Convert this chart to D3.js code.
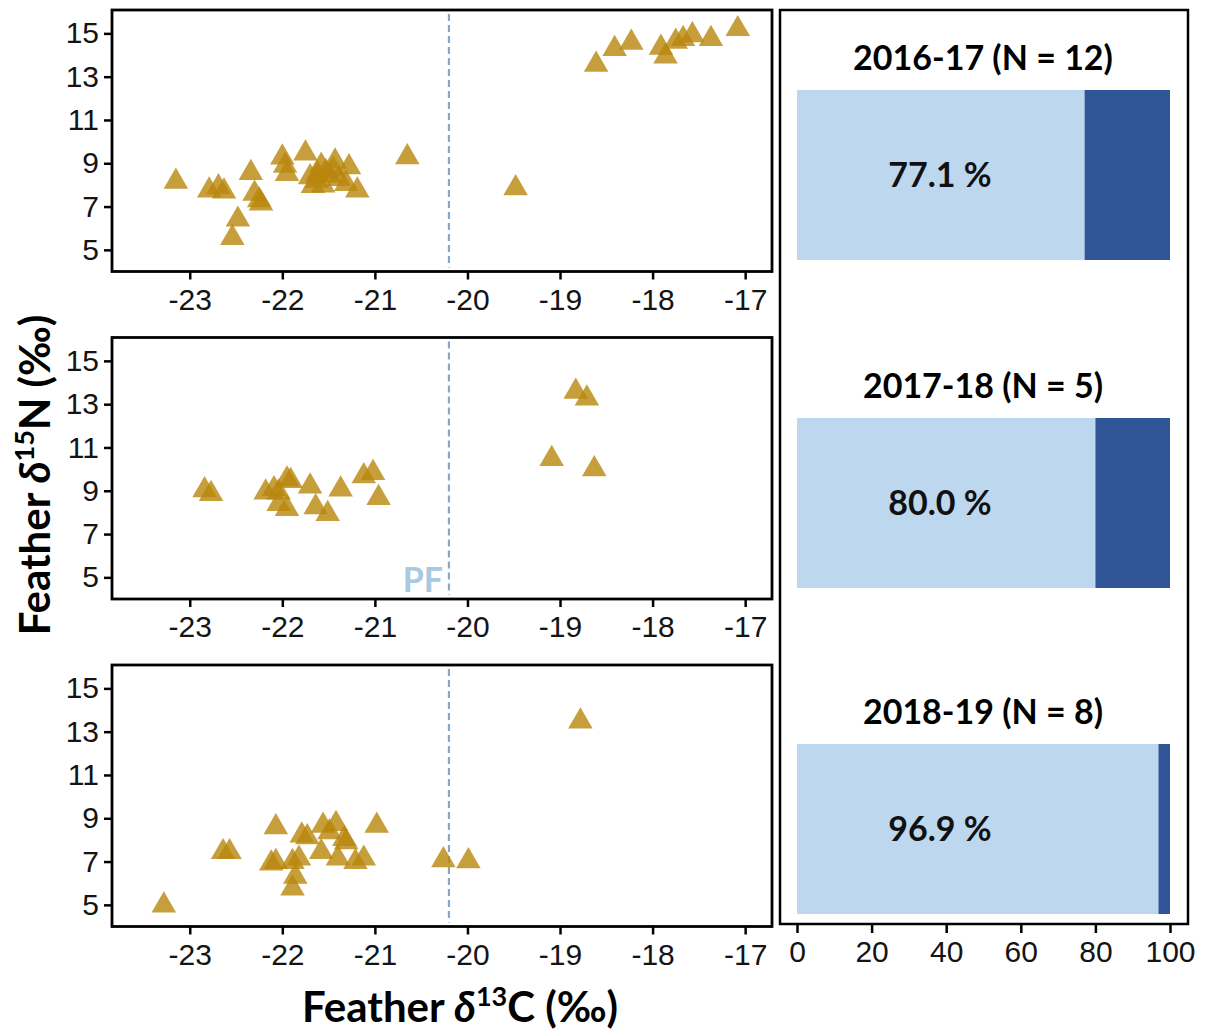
<!DOCTYPE html>
<html><head><meta charset="utf-8">
<script src="https://cdn.jsdelivr.net/npm/d3@7"></script>
<style>body{margin:0;background:#fff}svg{display:block}</style>
</head><body>
<script>
// ---------- data ----------
const xTicksC = [-23, -22, -21, -20, -19, -18, -17];
const yTicksN = [5, 7, 9, 11, 13, 15];
const barTicks = [0, 20, 40, 60, 80, 100];
const seasons = ["2016-17", "2017-18", "2018-19"];
const nBirds = [12, 5, 8];
const pctShare = [77.1, 80.0, 96.9];
const pfFront = -20.2;
const pfLabel = "PF";

const pts2016 = [
  [-18.61,13.55],[-18.41,14.28],[-18.23,14.57],[-17.91,14.34],[-17.86,13.93],[-17.75,14.62],
  [-17.67,14.74],[-17.57,14.92],[-17.37,14.74],[-17.08,15.2],
  [-19.48,7.85],[-20.65,9.28],
  [-23.15,8.15],[-22.79,7.75],[-22.69,7.9],[-22.63,7.7],[-22.34,8.55],[-22.48,6.4],[-22.54,5.55],
  [-22.3,7.6],[-22.25,7.29],[-22.23,7.14],[-22.0,9.27],[-21.97,8.89],[-21.95,8.51],[-21.75,9.46],
  [-21.70,8.36],[-21.63,8.2],[-21.58,8.89],[-21.56,7.98],[-21.49,8.44],[-21.43,9.09],[-21.39,8.28],
  [-21.31,8.05],[-21.28,8.82],[-21.19,7.75],[-21.67,7.95],[-21.53,8.6],[-21.62,8.5],[-21.45,8.7]
];
const pts2017 = [
  [-18.83,13.58],[-18.71,13.27],[-19.09,10.47],[-18.63,10.0],
  [-22.84,9.03],[-22.77,8.85],[-22.18,8.92],[-22.09,9.08],[-22.04,8.92],[-21.95,9.53],[-21.91,9.45],
  [-22.04,8.39],[-21.95,8.16],[-21.70,9.2],[-21.64,8.24],[-21.51,7.93],[-21.37,9.06],[-21.12,9.67],
  [-21.02,9.82],[-20.96,8.67]
];
const pts2018 = [
  [-18.78,13.47],[-23.28,4.97],[-22.64,7.44],[-22.57,7.44],[-22.07,8.59],[-22.12,6.91],[-22.07,6.98],
  [-21.89,6.98],[-21.82,7.14],[-21.86,6.3],[-21.89,5.76],[-21.79,8.21],[-21.73,8.13],[-21.58,7.44],
  [-21.56,8.66],[-21.49,8.36],[-21.42,8.74],[-21.40,7.14],[-21.33,8.05],[-21.31,7.9],[-21.21,6.98],
  [-21.12,7.14],[-20.98,8.66],[-20.26,7.06],[-19.99,7.02]
];
const seasonPts = [pts2016, pts2017, pts2018];

// ---------- layout ----------
const W = 1208, H = 1032;
const svg = d3.select("body").append("svg").attr("width", W).attr("height", H);

const scL = 112, scR = 772;
const panelTops = [10, 337.5, 665];
const panelH = 261.5;
const tickFont = "'Liberation Sans', Arial, sans-serif";
const tickSize = 30;
const boldFont = "Lato, 'Open Sans', sans-serif";

const x = d3.scaleLinear().domain([-23.84, -16.71]).range([scL, scR]);
const tri = d3.symbol().type(d3.symbolTriangle).size(260);

seasonPts.forEach((pts, i) => {
  const top = panelTops[i];
  const y = d3.scaleLinear().domain([4.0, 16.08]).range([top + panelH, top]);
  const g = svg.append("g");

  // x axis
  const gx = g.append("g").attr("transform", `translate(0,${top + panelH})`)
    .call(d3.axisBottom(x).tickValues(xTicksC).tickSize(8).tickSizeOuter(0).tickPadding(9).tickFormat(d => d));
  gx.select(".domain").remove();
  gx.selectAll("line").attr("stroke", "#000").attr("stroke-width", 2.5);
  gx.selectAll("text").attr("font-family", tickFont).attr("font-size", tickSize).attr("fill", "#141414")
    .text(d => (d < 0 ? "-" : "") + Math.abs(d));

  // y axis
  const gy = g.append("g").attr("transform", `translate(${scL},0)`)
    .call(d3.axisLeft(y).tickValues(yTicksN).tickSize(8).tickSizeOuter(0).tickPadding(5));
  gy.select(".domain").remove();
  gy.selectAll("line").attr("stroke", "#000").attr("stroke-width", 2.5);
  gy.selectAll("text").attr("font-family", tickFont).attr("font-size", tickSize).attr("fill", "#141414");

  // PF dashed line
  g.append("line").attr("x1", x(pfFront)).attr("x2", x(pfFront))
    .attr("y1", top + 4).attr("y2", top + panelH - 4)
    .attr("stroke", "#8aa6c4").attr("stroke-width", 2.2).attr("stroke-dasharray", "7,4");

  if (i === 1) {
    g.append("text").attr("x", x(pfFront) - 6).attr("y", top + panelH - 7)
      .attr("text-anchor", "end").attr("font-family", boldFont).attr("font-weight", 700)
      .attr("font-size", 34).attr("fill", "#a8c9e1").text(pfLabel);
  }

  // points
  g.append("g").selectAll("path").data(pts).join("path")
    .attr("d", tri)
    .attr("transform", d => `translate(${x(d[0])},${y(d[1])})`)
    .attr("fill", "#B8860B").attr("fill-opacity", 0.8);

  // frame
  g.append("rect").attr("x", scL).attr("y", top).attr("width", scR - scL).attr("height", panelH)
    .attr("fill", "none").attr("stroke", "#000").attr("stroke-width", 2.8);
});

// ---------- bar panel ----------
const bL = 780, bR = 1188, bT = 10, bB = 924;
const xb = d3.scaleLinear().domain([0, 100]).range([797, 1170]);
const barTops = [90, 418, 744];
const barH = 170;

const gb = svg.append("g");
seasons.forEach((s, i) => {
  const t = barTops[i];
  gb.append("rect").attr("x", xb(0)).attr("y", t).attr("width", xb(pctShare[i]) - xb(0)).attr("height", barH)
    .attr("fill", "#bdd7ee");
  gb.append("rect").attr("x", xb(pctShare[i])).attr("y", t).attr("width", xb(100) - xb(pctShare[i])).attr("height", barH)
    .attr("fill", "#2f5597");
  gb.append("text").attr("x", 983).attr("y", t - 20).attr("text-anchor", "middle")
    .attr("font-family", boldFont).attr("font-weight", 700).attr("font-size", 34).attr("fill", "#000")
    .text(`${s} (N = ${nBirds[i]})`);
  gb.append("text").attr("x", 940).attr("y", t + barH / 2 + 12).attr("text-anchor", "middle")
    .attr("font-family", boldFont).attr("font-weight", 700).attr("font-size", 34).attr("fill", "#111")
    .text(`${pctShare[i].toFixed(1)} %`);
});
const gbx = gb.append("g").attr("transform", `translate(0,${bB})`)
  .call(d3.axisBottom(xb).tickValues(barTicks).tickSize(9).tickSizeOuter(0).tickPadding(8));
gbx.select(".domain").remove();
gbx.selectAll("line").attr("stroke", "#000").attr("stroke-width", 2.5);
gbx.selectAll("text").attr("font-family", tickFont).attr("font-size", tickSize).attr("fill", "#141414");
gb.append("rect").attr("x", bL).attr("y", bT).attr("width", bR - bL).attr("height", bB - bT)
  .attr("fill", "none").attr("stroke", "#000").attr("stroke-width", 2.5);

// ---------- axis titles ----------
function title(sel, iso) {
  sel.attr("font-family", boldFont).attr("font-weight", 700).attr("font-size", 42).attr("fill", "#000");
  sel.append("tspan").text("Feather ");
  sel.append("tspan").attr("font-style", "italic").text("δ");
  sel.append("tspan").attr("font-size", 27).attr("dy", -16).text(iso[0]);
  sel.append("tspan").attr("dy", 16).text(iso[1] + " (‰)");
}
title(svg.append("text").attr("x", 460).attr("y", 1022).attr("text-anchor", "middle"), ["13", "C"]);
title(svg.append("text").attr("transform", "translate(50,475) rotate(-90)").attr("text-anchor", "middle"), ["15", "N"]);
</script>
</body></html>
